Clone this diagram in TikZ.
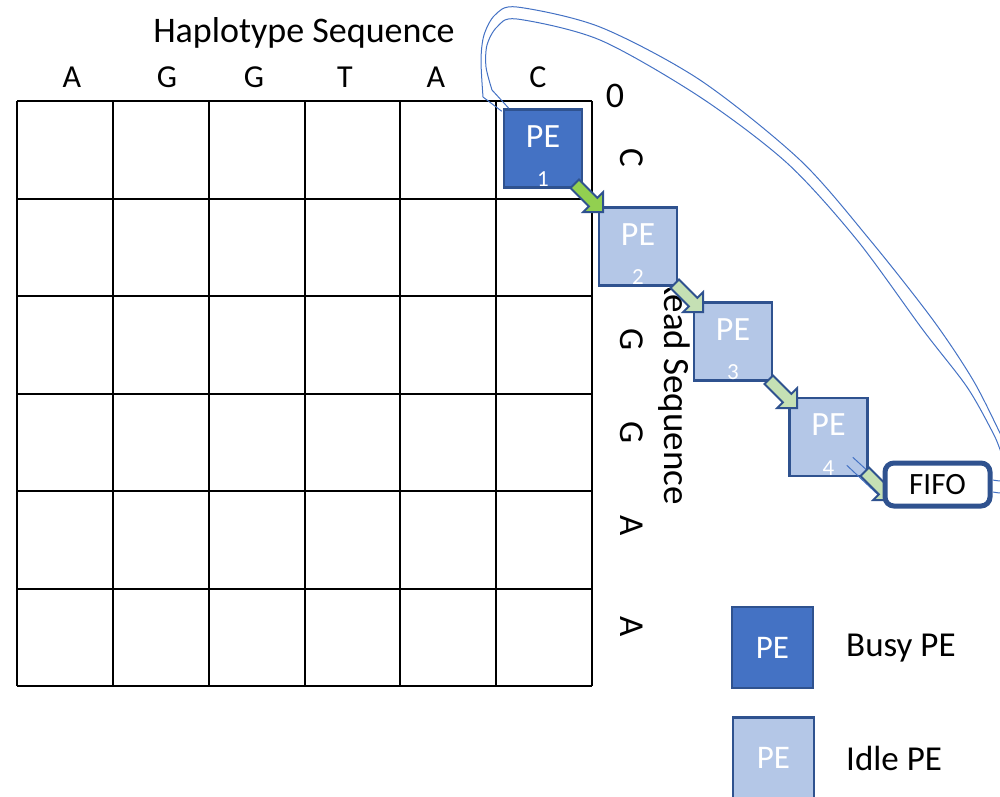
\documentclass[tikz,border=0pt]{standalone}
\usepackage{fontspec}
\setmainfont{Carlito}
\usetikzlibrary{calc}
\definecolor{busyblue}{HTML}{4472C4}
\definecolor{idleblue}{HTML}{B4C7E7}
\definecolor{peborder}{HTML}{2F528F}
\definecolor{greenA}{HTML}{92D050}
\definecolor{greenB}{HTML}{C5E0B4}
\newcommand\fsz[1]{\fontsize{#1}{#1}\selectfont}
\newcommand\blkarrow[2]{%
  \filldraw[#2, shift={#1}] (4.24,-4.24) -- (22.62,14.14) -- (28.28,8.48) -- (28.28,28.28)
    -- (8.48,28.28) -- (14.14,22.62) -- (-4.24,4.24) -- cycle;}
\tikzset{
  gridline/.style={line width=2pt, black},
  collab/.style={font=\fsz{32}, inner sep=0pt},
  rowlab/.style={font=\fsz{35}, inner sep=0pt, rotate=-90},
  pebox/.style={draw=peborder, line width=2.5pt, minimum width=78pt, minimum height=78pt, inner sep=0pt},
  busy/.style={pebox, fill=busyblue},
  idle/.style={pebox, fill=idleblue},
  petxt/.style={text=white, font=\fsz{34}, inner sep=0pt},
  pnum/.style={text=white, font=\fsz{23}, inner sep=0pt},
  arrowA/.style={fill=greenA, draw=peborder, line width=2pt, line join=miter},
  arrowB/.style={fill=greenB, draw=peborder, line width=2pt, line join=miter},
  loopline/.style={draw=busyblue, line width=1pt},
  fifobox/.style={draw=peborder, fill=white, line width=5pt, rounded corners=9pt,
    minimum width=105pt, minimum height=43pt, inner sep=0pt, font=\fsz{31}},
  legtxt/.style={font=\fsz{35}, anchor=west, inner sep=0pt}
}
\begin{document}
\begin{tikzpicture}[x=1pt,y=-1pt]
\useasboundingbox (0,0) rectangle (1000,796);
\clip (0,0) rectangle (1000,796);
% grid
\foreach \i in {0,...,6} {
  \draw[gridline] ({17+\i*95.833},101) -- ({17+\i*95.833},686);
  \draw[gridline] (17,{101+\i*97.5}) -- (592,{101+\i*97.5});
}
% labels
\node[font=\fsz{36}, inner sep=0pt] (title) at (304,33) {Haplotype Sequence};
\foreach \x/\l [count=\i] in {72/A,167/G,254/G,345/T,436/A,538/C}
  \node[collab] (c\i) at (\x,77) {\l};
\node[font=\fsz{36}, inner sep=0pt] (zero) at (615,96) {0};
\node[rowlab] (r1) at (632,158) {C};
\node[rowlab] (r3) at (632,340) {G};
\node[rowlab] (r4) at (632,433) {G};
\node[rowlab] (r5) at (632,526) {A};
\node[rowlab] (r6) at (632,627) {A};
\begin{scope}
\clip (640,288) rectangle (720,540);
\node[font=\fsz{37}, inner sep=0pt, rotate=-90] (rs) at (674,390) {Read Sequence};
\end{scope}
% processing elements
\node[busy] (p1) at (543,148.5) {};
\node[idle] (p2) at (638,246.5) {};
\node[idle] (p3) at (733,341.5) {};
\node[idle] (p4) at (828.5,437) {};
\foreach \p/\n in {p1/1,p2/2,p3/3,p4/4} {
  \node[petxt] (\p t) at ($(\p.center)+(0,-12)$) {PE};
  \node[pnum] (\p n) at ($(\p.center)+(0,31)$) {\n};
}
% feedback loop (double line)
\coordinate (loA) at (993,492);
\coordinate (liA) at (993,480);
\draw[loopline] plot[smooth] coordinates {(loA) (1008,492) (1016,474) (1009,452) (1000,433) (973,380) (933,320) (870,240) (800,160) (700,80) (600,27) (517,7) (495,15) (484,35) (481,60) (483,97)} -- ($(p1.north west)+(-1,3)$);
\draw[loopline] plot[smooth] coordinates {(liA) (1003,480) (1007,466) (1001,452) (993,433) (967,387) (923,330) (857,240) (787,163) (700,97) (600,40) (517,19) (497,27) (487,45) (486,67) (492,90)} -- ($(p1.north west)+(6,0)$);
\draw[loopline] ($(p4.south east)+(-16,-20)$) -- ($(p4.south east)+(20,13)$);
\draw[loopline] ($(p4.south east)+(-22,-12)$) -- ($(p4.south east)+(12,20)$);
% block arrows
\blkarrow{($(p1.south east)+(-8.5,-5)$)}{arrowA}
\blkarrow{($(p2.south east)+(-3.5,-3)$)}{arrowB}
\blkarrow{($(p3.south east)+(-4.5,-2)$)}{arrowB}
\blkarrow{($(p4.south east)+(-4,-5.5)$)}{arrowB}
% FIFO
\node[fifobox] (fifo) at (937.5,484.5) {FIFO};
% legend
\node[busy, minimum width=81pt, minimum height=81pt, font=\fsz{33}, text=white] (lb) at (772.5,647.5) {PE};
\node[idle, minimum width=81pt, minimum height=81pt, font=\fsz{33}, text=white] (li) at (773.5,758) {PE};
\node[legtxt] (lbt) at (846,648) {Busy PE};
\node[legtxt] (lit) at (846,758) {Idle PE};
\end{tikzpicture}
\end{document}
